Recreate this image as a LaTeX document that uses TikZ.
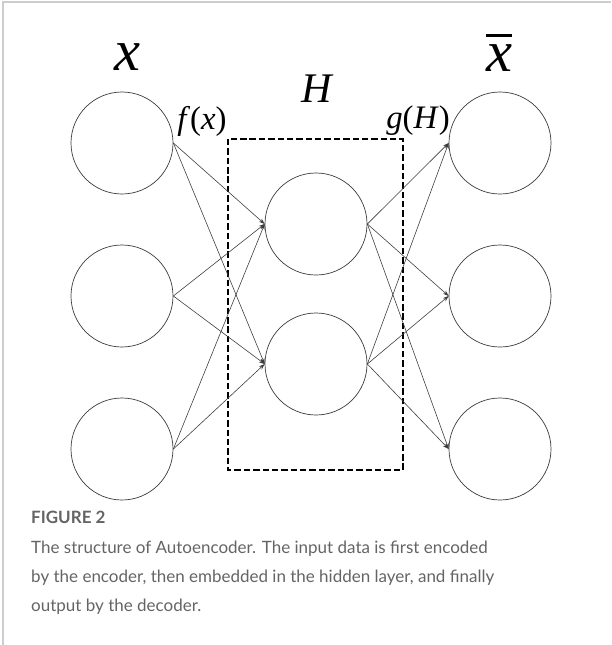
\documentclass[tikz,border=0pt]{standalone}
\usepackage{fontspec}
\newfontfamily\capfont{Lato}
\newfontfamily\labfont{Liberation Serif}
\definecolor{aegray}{RGB}{60,60,60}
\definecolor{capgray}{RGB}{100,100,100}
\definecolor{framegray}{RGB}{205,205,205}
\usetikzlibrary{arrows.meta}
\newcommand{\barred}[1]{{\setbox0\hbox{#1}\vbox{\hrule width\wd0 height 2.2pt\kern6.5pt\box0}}}
\tikzset{
  neuron/.style={draw=aegray, circle, minimum size=3.06cm, inner sep=0pt, line width=0.6pt},
  link/.style={aegray, line width=0.5pt, -{Stealth[length=5pt,width=3.5pt]}},
  hidbox/.style={draw=black, dashed, dash pattern=on 5.5pt off 2.5pt, line width=1pt},
  lab/.style={inner sep=0pt},
  caption/.style={font=\capfont\fontsize{14.5}{24.6}\selectfont, text=capgray, anchor=west, inner sep=0pt}
}
\begin{document}
\begin{tikzpicture}[x=0.03cm, y=-0.03cm]
  \useasboundingbox (0,0) rectangle (611,645);
  %% frame lines of the figure panel
  \draw[framegray, line width=0.9pt] (3,645) |- (611,2);

  %% hidden layer box
  \draw[hidbox] (228,139) rectangle (403,470);

  %% input layer
  \node[neuron] (x1) at (122,143) {};
  \node[neuron] (x2) at (122,296) {};
  \node[neuron] (x3) at (122,449) {};
  %% hidden layer
  \node[neuron] (h1) at (316,224) {};
  \node[neuron] (h2) at (316,364) {};
  %% output layer
  \node[neuron] (y1) at (500,143) {};
  \node[neuron] (y2) at (500,296) {};
  \node[neuron] (y3) at (500,449) {};

  %% encoder and decoder links
  \foreach \i in {1,2,3}
    \foreach \j in {1,2}
      \draw[link] (x\i.east) -- (h\j.west);
  \foreach \j in {1,2}
    \foreach \k in {1,2,3}
      \draw[link] (h\j.east) -- (y\k.west);

  %% labels
  \node[lab, font=\labfont\fontsize{50}{50}\selectfont] (xlab) at (127,57) {\textit{x}};
  \node[lab, font=\labfont\fontsize{50}{50}\selectfont] (ylab) at (499,53) {\barred{\textit{x}}};
  \node[lab, font=\labfont\fontsize{36}{36}\selectfont] (hlab) at (318,89) {\textit{H}};
  \node[lab, font=\labfont\fontsize{28}{28}\selectfont] (flab) at (202,121) {\textit{f}(\textit{x})};
  \node[lab, font=\labfont\fontsize{28}{28}\selectfont] (glab) at (418,121) {\textit{g}(\textit{H})};

  %% caption
  \node[caption, font=\capfont\bfseries\fontsize{14.5}{17}\selectfont] (fig) at (31,517) {FIGURE 2};
  \node[caption] (cap1) at (31,549) {The structure of Autoencoder. The input data is first encoded};
  \node[caption] (cap2) at (31,578) {by the encoder, then embedded in the hidden layer, and finally};
  \node[caption] (cap3) at (31,607) {output by the decoder.};
\end{tikzpicture}
\end{document}
